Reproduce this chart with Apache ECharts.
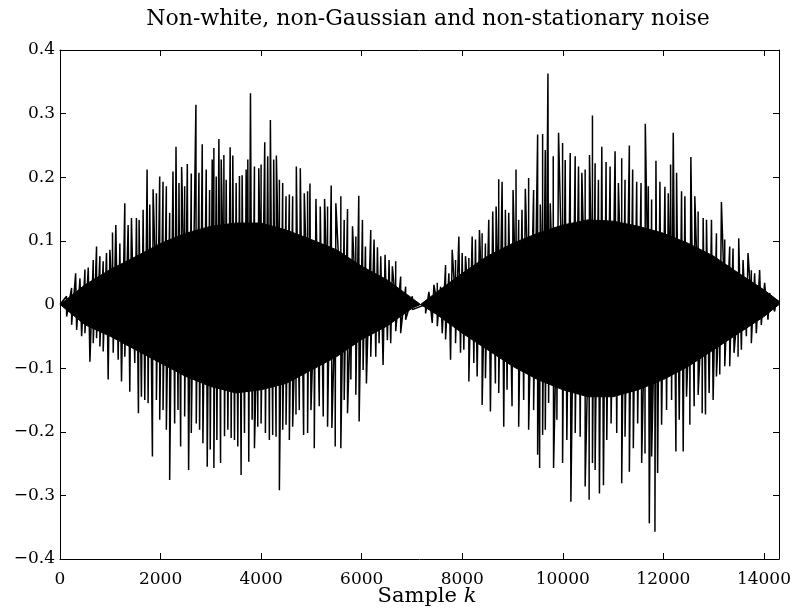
<!DOCTYPE html>
<html><head><meta charset="utf-8">
<script src="https://cdn.jsdelivr.net/npm/echarts@6/dist/echarts.min.js"></script>
<style>html,body{margin:0;padding:0;background:#fff}#c{width:794px;height:613px}</style>
</head><body><div id="c"></div>
<script>
// ---- data ----
const titleText = 'Non-white, non-Gaussian and non-stationary noise';
const xName = 'Sample ';
const xNameItalic = 'k';
const xTicks = [0, 2000, 4000, 6000, 8000, 10000, 12000, 14000];
const yTicks = [-0.4, -0.3, -0.2, -0.1, 0, 0.1, 0.2, 0.3, 0.4];

// dense (solid) core of the signal: sample index, upper and lower extent
const coreK  = [0, 500, 1000, 1500, 2000, 2500, 3000, 3500, 4000, 4500, 5000, 5500, 6000, 6500, 7000, 7170, 7500, 8000, 8500, 9000, 9500, 10000, 10500, 11000, 11500, 12000, 12500, 13000, 13500, 14000, 14300];
const coreUp = [0, 0.031, 0.055, 0.075, 0.096, 0.112, 0.123, 0.128, 0.128, 0.117, 0.102, 0.086, 0.060, 0.039, 0.010, 0, 0.020, 0.049, 0.076, 0.096, 0.112, 0.125, 0.133, 0.131, 0.123, 0.112, 0.096, 0.076, 0.049, 0.023, 0.005];
const coreLo = [0, -0.032, -0.050, -0.071, -0.092, -0.113, -0.129, -0.139, -0.134, -0.124, -0.103, -0.082, -0.055, -0.034, -0.006, 0, -0.016, -0.045, -0.071, -0.097, -0.118, -0.134, -0.145, -0.145, -0.134, -0.118, -0.097, -0.071, -0.045, -0.019, 0];

// individual peaks sticking out of the core: [sample, value]
const spikesUp = [
[130,0.013],[230,0.026],[311,0.049],[397,0.041],[496,0.055],[562,0.058],[661,0.070],[727,0.091],[793,0.076],[859,0.068],
[925,0.081],[992,0.086],[1044,0.113],[1110,0.125],[1190,0.096],[1289,0.159],[1355,0.125],[1421,0.136],[1520,0.136],[1573,0.133],
[1653,0.149],[1732,0.212],[1785,0.157],[1851,0.181],[1917,0.175],[1983,0.201],[2049,0.193],[2115,0.186],[2181,0.144],[2247,0.209],
[2307,0.248],[2366,0.191],[2419,0.216],[2479,0.186],[2532,0.221],[2611,0.206],[2703,0.314],[2763,0.207],[2829,0.252],[2908,0.212],
[2975,0.180],[3027,0.228],[3060,0.246],[3107,0.201],[3160,0.260],[3206,0.228],[3259,0.235],[3305,0.196],[3384,0.247],[3437,0.234],
[3503,0.191],[3569,0.202],[3622,0.203],[3702,0.212],[3735,0.228],[3788,0.332],[3867,0.217],[3953,0.214],[3999,0.220],[4072,0.255],
[4131,0.233],[4184,0.290],[4250,0.228],[4303,0.234],[4363,0.196],[4429,0.191],[4495,0.170],[4561,0.173],[4627,0.170],[4700,0.217],
[4779,0.214],[4858,0.175],[4924,0.178],[4971,0.190],[5090,0.166],[5176,0.154],[5262,0.166],[5321,0.154],[5394,0.187],[5486,0.159],
[5585,0.170],[5652,0.133],[5718,0.150],[5817,0.123],[5883,0.107],[5942,0.171],[6015,0.133],[6075,0.091],[6180,0.117],[6246,0.102],
[6313,0.090],[6379,0.076],[6465,0.078],[6544,0.070],[6610,0.060],[6676,0.068],[6775,0.044],[6874,0.028],[7007,0.013],
[7337,0.020],[7436,0.031],[7503,0.034],[7569,0.028],[7668,0.062],[7734,0.049],[7800,0.086],[7866,0.070],[7932,0.107],[7998,0.081],
[8064,0.076],[8131,0.073],[8197,0.107],[8263,0.102],[8342,0.117],[8395,0.112],[8461,0.096],[8527,0.133],[8606,0.146],[8673,0.154],
[8725,0.197],[8792,0.193],[8858,0.149],[8924,0.144],[9010,0.180],[9069,0.212],[9122,0.133],[9188,0.149],[9254,0.182],[9320,0.199],
[9419,0.180],[9499,0.267],[9552,0.157],[9598,0.268],[9651,0.243],[9704,0.363],[9750,0.159],[9809,0.233],[9915,0.270],[9995,0.254],
[10047,0.227],[10147,0.238],[10246,0.233],[10312,0.217],[10378,0.207],[10444,0.212],[10530,0.235],[10589,0.297],[10642,0.222],[10708,0.196],
[10775,0.248],[10860,0.224],[10940,0.217],[11039,0.241],[11105,0.191],[11171,0.230],[11237,0.196],[11323,0.250],[11389,0.212],[11469,0.193],
[11555,0.191],[11640,0.284],[11700,0.186],[11766,0.165],[11852,0.226],[11931,0.193],[12030,0.185],[12097,0.175],[12143,0.220],[12196,0.270],
[12262,0.207],[12361,0.178],[12427,0.170],[12546,0.232],[12625,0.170],[12691,0.146],[12791,0.136],[12857,0.133],[12956,0.133],[13055,0.112],
[13154,0.161],[13220,0.102],[13319,0.091],[13385,0.088],[13498,0.104],[13584,0.070],[13683,0.081],[13749,0.054],[13815,0.049],[13914,0.054],
[14013,0.034],[14112,0.018],[14245,0.005]
];
const spikesDown = [
[132,-0.019],[231,-0.032],[331,-0.040],[430,-0.050],[496,-0.045],[595,-0.090],[661,-0.061],[727,-0.053],[793,-0.066],[859,-0.074],
[958,-0.118],[1058,-0.076],[1157,-0.087],[1223,-0.121],[1289,-0.082],[1388,-0.137],[1487,-0.092],[1560,-0.171],[1619,-0.145],[1686,-0.150],
[1752,-0.155],[1838,-0.239],[1917,-0.150],[1983,-0.181],[2049,-0.166],[2115,-0.197],[2181,-0.276],[2280,-0.187],[2347,-0.166],[2399,-0.223],
[2479,-0.176],[2558,-0.260],[2611,-0.202],[2710,-0.187],[2776,-0.197],[2842,-0.218],[2928,-0.255],[2988,-0.228],[3060,-0.257],[3120,-0.213],
[3193,-0.249],[3272,-0.207],[3338,-0.197],[3404,-0.210],[3470,-0.213],[3536,-0.223],[3602,-0.268],[3669,-0.202],[3754,-0.247],[3821,-0.181],
[3867,-0.226],[3933,-0.192],[3999,-0.187],[4085,-0.202],[4164,-0.213],[4230,-0.205],[4297,-0.208],[4363,-0.292],[4429,-0.197],[4495,-0.189],
[4561,-0.213],[4627,-0.192],[4693,-0.173],[4759,-0.166],[4845,-0.205],[4924,-0.202],[4991,-0.166],[5057,-0.226],[5156,-0.160],[5235,-0.176],
[5321,-0.192],[5407,-0.194],[5473,-0.223],[5585,-0.226],[5652,-0.150],[5718,-0.171],[5784,-0.118],[5883,-0.142],[5949,-0.184],[6028,-0.103],
[6094,-0.124],[6180,-0.082],[6280,-0.082],[6346,-0.061],[6425,-0.095],[6511,-0.056],[6577,-0.061],[6676,-0.042],[6775,-0.045],[6874,-0.024],
[7007,-0.008],
[7271,-0.014],[7403,-0.029],[7503,-0.034],[7602,-0.045],[7668,-0.055],[7767,-0.087],[7866,-0.061],[7965,-0.076],[8031,-0.071],[8131,-0.121],
[8230,-0.092],[8296,-0.113],[8395,-0.158],[8461,-0.116],[8560,-0.168],[8659,-0.124],[8725,-0.139],[8825,-0.192],[8891,-0.134],[8990,-0.160],
[9076,-0.095],[9122,-0.192],[9221,-0.150],[9320,-0.197],[9419,-0.166],[9499,-0.236],[9538,-0.257],[9598,-0.205],[9651,-0.197],[9717,-0.155],
[9816,-0.257],[9882,-0.181],[9995,-0.249],[10080,-0.213],[10160,-0.310],[10246,-0.202],[10345,-0.208],[10444,-0.286],[10523,-0.307],[10589,-0.249],
[10642,-0.260],[10728,-0.297],[10808,-0.284],[10874,-0.213],[10960,-0.187],[11072,-0.202],[11171,-0.281],[11237,-0.208],[11323,-0.263],[11402,-0.226],
[11488,-0.187],[11568,-0.249],[11634,-0.234],[11720,-0.344],[11766,-0.239],[11832,-0.357],[11885,-0.265],[11964,-0.189],[12063,-0.166],[12163,-0.150],
[12249,-0.231],[12315,-0.181],[12394,-0.231],[12460,-0.145],[12526,-0.189],[12612,-0.160],[12691,-0.142],[12771,-0.171],[12837,-0.173],[12910,-0.139],
[12989,-0.150],[13055,-0.113],[13121,-0.110],[13220,-0.097],[13319,-0.097],[13405,-0.076],[13485,-0.082],[13551,-0.071],[13650,-0.050],[13749,-0.061],
[13848,-0.045],[13947,-0.032],[14080,-0.024],[14212,-0.011]
];

// ---- build the chart ----
const FONT = 'DejaVu Serif';
const chart = echarts.init(document.getElementById('c'), null, {renderer: 'canvas'});

// trace the peaks in time order, as the plotted signal does: up, down, up, ...
// (when two peaks of the same sign follow each other the trace passes through 0)
function signalTrace(up, down) {
  const all = up.concat(down).sort((a, b) => a[0] - b[0]);
  const out = [[0, 0]];
  let prevSign = 0;
  all.forEach(p => {
    const s = Math.sign(p[1]);
    if (s === prevSign) out.push([p[0], 0]);
    out.push([p[0], p[1]]);
    prevSign = s;
  });
  return out;
}
// core band as one closed outline: upper edge forward, lower edge backward
function coreOutline(ks, up, lo) {
  const fwd = ks.map((k, i) => [k, up[i]]);
  const back = ks.map((k, i) => [k, lo[i]]).reverse();
  return fwd.concat(back);
}
const yFmt = v => {
  if (Math.abs(v) < 1e-9) return '0';
  const s = Math.abs(v).toFixed(1);
  return v < 0 ? '\u2212' + s : s;
};

const xAxisBase = {
  type: 'value', min: 0, max: 14300, interval: xTicks[1] - xTicks[0],
  axisLine: {show: true, onZero: false, lineStyle: {color: '#000', width: 1}},
  axisTick: {show: true, inside: true, length: 6, lineStyle: {color: '#000'}},
  splitLine: {show: false}
};
const yAxisBase = {
  type: 'value', min: yTicks[0], max: yTicks[yTicks.length - 1], interval: 0.1,
  axisLine: {show: true, onZero: false, lineStyle: {color: '#000', width: 1}},
  axisTick: {show: true, inside: true, length: 6, lineStyle: {color: '#000'}},
  splitLine: {show: false}
};

const outline = coreOutline(coreK, coreUp, coreLo);

chart.setOption({
  animation: false,
  backgroundColor: '#fff',
  grid: {left: 60, right: 12, top: 50, bottom: 54, containLabel: false},
  xAxis: [
    Object.assign({}, xAxisBase, {position: 'bottom',
      axisLabel: {show: true, margin: 12, color: '#000', fontFamily: FONT, fontSize: 17,
        formatter: v => xTicks.indexOf(v) >= 0 ? String(v) : ''}}),
    Object.assign({}, xAxisBase, {position: 'top', axisLabel: {show: false}})
  ],
  yAxis: [
    Object.assign({}, yAxisBase, {position: 'left',
      axisLabel: {show: true, margin: 5, color: '#000', fontFamily: FONT, fontSize: 17, formatter: yFmt}}),
    Object.assign({}, yAxisBase, {position: 'right', axisLabel: {show: false}})
  ],
  graphic: [
    {type: 'text', x: 428, y: 19, style: {text: titleText, fill: '#000', font: '22px "DejaVu Serif"',
      textAlign: 'center', textVerticalAlign: 'middle'}},
    {type: 'text', x: 427, y: 597, style: {
      text: '{a|' + xName + '}{b|' + xNameItalic + '}', textAlign: 'center', textVerticalAlign: 'middle',
      rich: {a: {fontFamily: FONT, fontSize: 21, fill: '#000', color: '#000'},
             b: {fontFamily: FONT, fontSize: 21, fontStyle: 'italic', fill: '#000', color: '#000'}}}}
  ],
  series: [
    {type: 'custom', name: 'core', silent: true, data: outline,
     renderItem: function (params, api) {
       if (params.dataIndex !== 0) return null;
       const pts = outline.map(p => api.coord(p));
       return {type: 'polygon', shape: {points: pts}, style: {fill: '#000', stroke: '#000', lineWidth: 1}};
     }},
    {type: 'line', name: 'signal', data: signalTrace(spikesUp, spikesDown), showSymbol: false, silent: true,
     lineStyle: {color: '#000', width: 1.5}}
  ]
});
</script>
</body></html>
